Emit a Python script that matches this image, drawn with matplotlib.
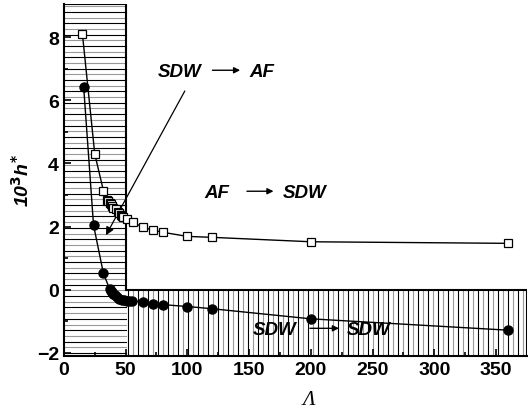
import matplotlib
matplotlib.use('Agg')
import matplotlib.pyplot as plt
import numpy as np

# open squares
sq_x = [15, 25, 32, 35, 36, 37, 38, 39, 40, 42, 44, 45, 46, 47, 48, 51, 56, 64, 72, 80, 100, 120, 200, 360]
sq_y = [8.1, 4.3, 3.14, 2.85, 2.8, 2.75, 2.7, 2.65, 2.6, 2.55, 2.45, 2.42, 2.38, 2.34, 2.3, 2.24, 2.13, 1.98, 1.89, 1.82, 1.69, 1.66, 1.52, 1.47]

# filled circles
ci_x = [16, 24, 32, 37, 38, 39, 40, 41, 43, 45, 47, 49, 51, 53, 55, 64, 72, 80, 100, 120, 200, 360]
ci_y = [6.43, 2.05, 0.52, 0.03, -0.03, -0.08, -0.13, -0.18, -0.24, -0.28, -0.31, -0.33, -0.34, -0.34, -0.35, -0.39, -0.45, -0.47, -0.53, -0.6, -0.92, -1.28]

xmin, xmax = 0, 375
ymin, ymax = -2.1, 9.05
bound_x = 50

fig = plt.figure(figsize=(5.28, 4.10), dpi=100)
ax = fig.add_axes([0.121, 0.129, 0.877, 0.859])
ax.set_xlim(xmin, xmax)
ax.set_ylim(ymin, ymax)

# hatched regions
hy = np.arange(ymin + 0.1, ymax, 0.18)
for i, y in enumerate(hy):
    ax.plot([xmin, bound_x], [y, y], color='black' if i % 2 == 0 else '0.6', lw=0.8, zorder=1)
vx = np.arange(bound_x + 2, xmax, 4.05)
for i, x in enumerate(vx):
    ax.plot([x, x], [ymin, 0], color='black' if i % 2 == 0 else '0.6', lw=0.8, zorder=1)
ax.plot([xmin, bound_x, bound_x], [ymax, ymax, 0], color='black', lw=1.5, zorder=2)
ax.plot([bound_x, xmax, xmax], [0, 0, ymin], color='black', lw=1.5, zorder=2)

ax.plot(sq_x, sq_y, color='black', lw=1, marker='s', ms=6, mfc='white', mec='black', mew=0.9, zorder=4)
ax.plot(ci_x, ci_y, color='black', lw=1, marker='o', ms=6.5, mfc='black', mec='black', zorder=4)

fnt = dict(fontsize=13.5, fontweight='bold', fontstyle='italic', family=['Liberation Sans', 'DejaVu Sans'])
ax.text(76, 6.9, 'SDW', va='center', ha='left', **fnt)
ax.annotate('', xy=(145, 6.95), xytext=(118, 6.95),
            arrowprops=dict(arrowstyle='-|>', color='black', lw=1, mutation_scale=9))
ax.text(150, 6.9, 'AF', va='center', ha='left', **fnt)
ax.annotate('', xy=(33, 1.65), xytext=(99, 6.37),
            arrowprops=dict(arrowstyle='-|>', color='black', lw=0.9, mutation_scale=12))

ax.text(114, 3.07, 'AF', va='center', ha='left', **fnt)
ax.annotate('', xy=(172, 3.12), xytext=(146, 3.12),
            arrowprops=dict(arrowstyle='-|>', color='black', lw=1, mutation_scale=9))
ax.text(177, 3.07, 'SDW', va='center', ha='left', **fnt)

ax.text(153, -1.27, 'SDW', va='center', ha='left', zorder=5, **fnt)
ax.annotate('', xy=(225, -1.22), xytext=(197, -1.22),
            arrowprops=dict(arrowstyle='-|>', color='black', lw=1, mutation_scale=9))
ax.text(229, -1.27, 'SDW', va='center', ha='left', zorder=5, **fnt)

for s in ['top', 'right']:
    ax.spines[s].set_visible(False)
for s in ['left', 'bottom']:
    ax.spines[s].set_linewidth(1.5)

ax.set_xticks(np.arange(0, 351, 50))
ax.set_xticks(np.arange(25, 375, 50), minor=True)
ax.set_yticks(np.arange(-2, 9, 2))
ax.set_yticks(np.arange(-1, 9, 2), minor=True)
ax.tick_params(which='both', direction='in', width=1.2)
ax.tick_params(which='major', length=5, labelsize=14)
ax.tick_params(which='minor', length=3)
for lab in ax.get_xticklabels() + ax.get_yticklabels():
    lab.set_fontweight('bold')
    lab.set_family(['Liberation Sans', 'DejaVu Sans'])

ax.set_xlabel('\u039b', fontsize=15, fontstyle='italic', family='Liberation Serif')
ax.xaxis.set_label_coords(0.53, -0.095)
ax.set_ylabel(r'10$^{\mathbf{3}}$h$^{\mathbf{*}}$', fontsize=14, fontweight='bold', fontstyle='italic',
              family=['Liberation Sans', 'DejaVu Sans'])
ax.yaxis.set_label_coords(-0.068, 0.5)

fig.savefig('out.png', dpi=100)
